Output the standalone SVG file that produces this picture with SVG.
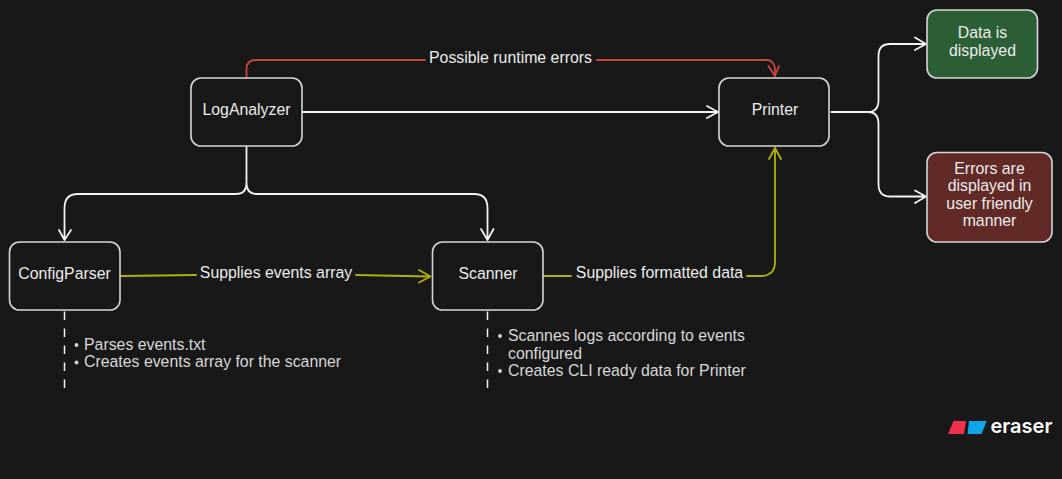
<svg xmlns="http://www.w3.org/2000/svg" width="1062" height="479" viewBox="0 0 1062 479">
<style>
text{font-family:"Liberation Sans",Arial,sans-serif;font-size:15.85px;fill:#ececec}
.c{text-anchor:middle}
.n{fill:#181818;stroke:#d6d6d6;stroke-width:1.6}
.w,.r,.y{fill:none;stroke-width:1.8;stroke-linecap:round;stroke-linejoin:round}
.w{stroke:#f2f2f2}
.r{stroke:#c9463f}
.y{stroke:#b0b00a}
.d{fill:none;stroke:#f0f0f0;stroke-width:1.5;stroke-dasharray:8.5 8.5}
.note{fill:#d8d8d8}
</style>
<rect width="1062" height="479" fill="#181818"/>
<g id="connectors">
<path class="r" d="M246.500 77V69Q246.500 60 256 60H425M597 60H767Q773 60 775 68V76"/>
<path class="r" d="M768.500 66L775 76L779 66"/>
<path class="w" d="M302.500 112H718M707 106L718 112L707 118"/>
<path class="w" d="M831.500 112H868Q878.500 112 878.500 100V56Q878.500 44 890 44H926M915 37.500L926 44L915 50M868 112Q878.500 112 878.500 124V184Q878.500 196.500 890 196.500H926M915 190.500L926 196.500L915 203"/>
<path class="y" d="M747 276H760Q775 276 775 262V148M769 159L775 148L781 159"/>
<path class="w" d="M246.500 147V183Q246.500 194 236 194H78Q64.500 194 64.500 208V240M59 230L64.500 240L71 230M246.500 183Q246.500 194 257 194H474Q487.500 194 487.500 208V240M481 229L487.500 240L493.500 229"/>
<path class="y" d="M121 276L196 275M356 275L430 276.500M419 270L430.500 276.500L419 282.500"/>
<path class="y" d="M544 276H571"/>
<path class="d" d="M64.500 311.500V389M487.500 311.500V389"/>
</g>
<g id="LogAnalyzer"><rect class="n" x="191" y="78" width="111" height="68" rx="10"/><text class="c" x="246.500" y="115">LogAnalyzer</text></g>
<g id="Printer"><rect class="n" x="719" y="78" width="110" height="68" rx="10"/><text class="c" x="775" y="115">Printer</text></g>
<g id="DataDisplayed"><rect x="927" y="10" width="110.500" height="68" rx="10" fill="#2c5f35" stroke="#d6d6d6" stroke-width="1.600"/><text class="c" x="982.500" y="38">Data is</text><text class="c" x="982.500" y="55.500">displayed</text></g>
<g id="ErrorsDisplayed"><rect x="927" y="152.500" width="125" height="89.500" rx="10" fill="#622a27" stroke="#d6d6d6" stroke-width="1.600"/><text class="c" x="989.500" y="173.500">Errors are</text><text class="c" x="989.500" y="191">displayed in</text><text class="c" x="989.500" y="208.500">user friendly</text><text class="c" x="989.500" y="226">manner</text></g>
<g id="ConfigParser"><rect class="n" x="9.500" y="242" width="110.500" height="68" rx="10"/><text class="c" x="64.500" y="279">ConfigParser</text></g>
<g id="Scanner"><rect class="n" x="432.500" y="242" width="110.500" height="68" rx="10"/><text class="c" x="488" y="279">Scanner</text></g>
<g id="labels">
<text class="c" x="510.500" y="63">Possible runtime errors</text>
<text class="c" x="276" y="278">Supplies events array</text>
<text class="c" x="659.500" y="278">Supplies formatted data</text>
</g>
<g id="notes">
<circle cx="76.500" cy="345" r="1.900" fill="#d8d8d8"/><text class="note" x="84" y="349.500">Parses events.txt</text>
<circle cx="76.500" cy="362.500" r="1.900" fill="#d8d8d8"/><text class="note" x="84" y="367">Creates events array for the scanner</text>
<circle cx="500" cy="336" r="1.900" fill="#d8d8d8"/><text class="note" x="508" y="341">Scannes logs according to events</text>
<text class="note" x="508" y="358.500">configured</text>
<circle cx="500" cy="371" r="1.900" fill="#d8d8d8"/><text class="note" x="508" y="376">Creates CLI ready data for Printer</text>
</g>
<g id="logo">
<polygon points="948,434 953.500,421 966,421 964,434" fill="#ef2f4b"/>
<polygon points="969,421 986.700,421 981.500,434 967.500,434" fill="#0ea5e9"/>
<text x="990.500" y="433" style="font-family:Inter,sans-serif;font-size:20px;font-weight:600;fill:#fff">eraser</text>
</g>
</svg>
